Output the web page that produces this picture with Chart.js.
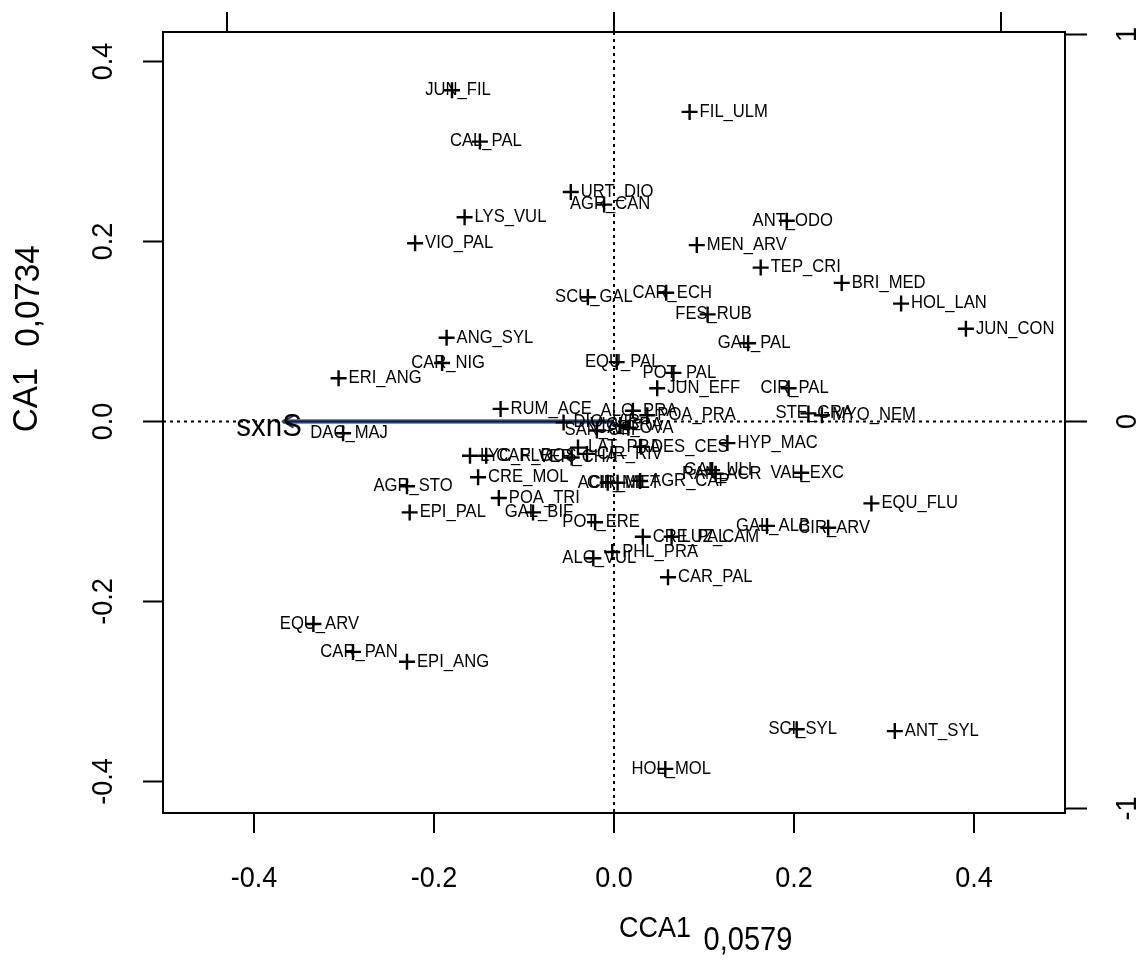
<!DOCTYPE html>
<html><head><meta charset="utf-8">
<script src="https://cdn.jsdelivr.net/npm/chart.js@4.4.0/dist/chart.umd.min.js"></script>
<style>html,body{margin:0;padding:0;background:#fff;}#wrap{width:1143px;height:979px;}</style>
</head><body><div id="wrap"><canvas id="c" width="1143" height="979"></canvas></div>
<script>
// ---- data ----
const speciesNames = ["JUN_FIL","FIL_ULM","CAL_PAL","URT_DIO","AGR_CAN","ANT_ODO","LYS_VUL","VIO_PAL","MEN_ARV","TEP_CRI","BRI_MED","SCU_GAL","CAR_ECH","HOL_LAN","FES_RUB","JUN_CON","ANG_SYL","GAL_PAL","CAR_NIG","EQU_PAL","POT_PAL","ERI_ANG","JUN_EFF","CIR_PAL","RUM_ACE","ALO_PRA","POA_PRA","STE_GRA","MYO_NEM","DIO_VIR","SAN_OFF","VIC_CRA","CAR_OVA","DAC_MAJ","LAT_PRA","DES_CES","HYP_MAC","LYC_FLO","CAR_ROS","VER_CHA","CIR_RIV","CRE_MOL","AGR_STO","ACH_MIL","CIR_MET","AGR_CAP","GAL_ULI","RAN_ACR","VAL_EXC","POA_TRI","EQU_FLU","EPI_PAL","GAL_BIF","POT_ERE","GAL_ALB","CIR_ARV","CRE_PAL","LUZ_CAM","PHL_PRA","ALC_VUL","CAR_PAL","EQU_ARV","CAR_PAN","EPI_ANG","SCI_SYL","ANT_SYL","HOL_MOL"];
const speciesX = [-0.180,0.084,-0.149,-0.048,-0.011,0.192,-0.166,-0.221,0.092,0.163,0.253,-0.029,0.058,0.319,0.104,0.391,-0.186,0.149,-0.191,0.003,0.066,-0.306,0.048,0.194,-0.126,0.021,0.037,0.216,0.231,-0.056,-0.019,0.007,0.016,-0.301,-0.040,0.030,0.126,-0.160,-0.142,-0.047,-0.030,-0.151,-0.230,-0.007,0.004,0.029,0.109,0.113,0.208,-0.128,0.286,-0.227,-0.090,-0.021,0.170,0.238,0.032,0.064,-0.002,-0.023,0.060,-0.334,-0.290,-0.230,0.203,0.312,0.057];
const speciesY = [0.368,0.344,0.311,0.255,0.241,0.223,0.227,0.198,0.196,0.171,0.154,0.138,0.143,0.131,0.119,0.103,0.093,0.087,0.065,0.066,0.054,0.048,0.037,0.037,0.014,0.012,0.007,0.009,0.007,-0.001,-0.010,-0.004,-0.007,-0.013,-0.029,-0.028,-0.024,-0.038,-0.038,-0.040,-0.036,-0.062,-0.072,-0.068,-0.068,-0.066,-0.054,-0.058,-0.057,-0.085,-0.091,-0.101,-0.101,-0.112,-0.116,-0.118,-0.128,-0.128,-0.145,-0.152,-0.173,-0.225,-0.256,-0.267,-0.342,-0.344,-0.386];
// label placement: 'c' = centred on the cross, 'r' = to the right of the cross
const labelSide = ["c","r","c","r","c","c","r","r","r","r","r","c","c","r","c","r","r","c","c","c","c","r","r","c","r","c","r","c","r","r","c","c","c","c","r","r","r","r","r","c","r","r","c","c","c","r","c","c","c","r","r","r","c","c","c","c","r","r","r","c","r","c","c","r","c","r","c"];
const arrowNames = ["sxnS"];
const arrowX = [-0.855];
const arrowY = [0.0];
const arrowMult = 0.43;
const xTicks = [-0.4,-0.2,0.0,0.2,0.4];
const yTicks = [-0.4,-0.2,0.0,0.2,0.4];
const arrowTicks = [-1,0,1];
const xLimits = [-0.5011,0.5011];
const yLimits = [-0.435,0.4328];
const xTitle = ["CCA1","0,0579"];
const yTitle = ["CA1","0,0734"];

const FONT = '"Liberation Sans", Arial, Helvetica, sans-serif';

function condensedText(ctx, txt, x, y, size, sx, align, rot){
  ctx.save();
  ctx.translate(x,y);
  if(rot) ctx.rotate(rot);
  ctx.scale(sx,1);
  ctx.font = size+'px '+FONT;
  ctx.textAlign = align; ctx.textBaseline='middle';
  ctx.fillText(txt,0,0);
  ctx.restore();
}

const rPlot = {
  id:'rPlot',
  beforeDatasetsDraw(chart){
    const {ctx, chartArea:a, scales:{x,y}} = chart;
    ctx.save();
    ctx.beginPath(); ctx.rect(a.left,a.top,a.right-a.left,a.bottom-a.top); ctx.clip();
    ctx.strokeStyle='#000'; ctx.lineWidth=2; ctx.setLineDash([3,4]);
    const x0=x.getPixelForValue(0), y0=y.getPixelForValue(0);
    ctx.beginPath(); ctx.moveTo(x0,a.top); ctx.lineTo(x0,a.bottom); ctx.stroke();
    ctx.beginPath(); ctx.moveTo(a.left,y0); ctx.lineTo(a.right,y0); ctx.stroke();
    ctx.restore();
  },
  afterDatasetsDraw(chart){
    const {ctx, chartArea:a, scales} = chart;
    const x=scales.x, y=scales.y, x2=scales.x2, y2=scales.y2;
    ctx.save();
    ctx.fillStyle='#000'; ctx.strokeStyle='#000';
    // species labels
    ctx.save();
    ctx.beginPath(); ctx.rect(a.left,a.top,a.right-a.left,a.bottom-a.top); ctx.clip();
    speciesNames.forEach((n,i)=>{
      const px=x.getPixelForValue(speciesX[i]), py=y.getPixelForValue(speciesY[i]);
      if(labelSide[i]==='r') condensedText(ctx,n,px+10,py,17.5,0.95,'left');
      else condensedText(ctx,n,px+6,py,17.5,0.95,'center');
    });
    ctx.restore();
    // arrow heads and labels
    arrowNames.forEach((n,i)=>{
      const ex=x.getPixelForValue(arrowX[i]*arrowMult), ey=y.getPixelForValue(arrowY[i]*arrowMult);
      const ox=x.getPixelForValue(0), oy=y.getPixelForValue(0);
      const ang=Math.atan2(ey-oy,ex-ox), L=12, w=Math.PI/6;
      ctx.save();
      ctx.strokeStyle='#23407a'; ctx.lineWidth=2;
      ctx.beginPath();
      ctx.moveTo(ex-L*Math.cos(ang-w), ey-L*Math.sin(ang-w));
      ctx.lineTo(ex,ey);
      ctx.lineTo(ex-L*Math.cos(ang+w), ey-L*Math.sin(ang+w));
      ctx.stroke();
      ctx.restore();
      ctx.fillStyle='#000';
      condensedText(ctx,n,ex-14,ey+6,31,0.95,'center');
    });
    // box
    ctx.lineWidth=2;
    ctx.strokeRect(a.left,a.top,a.right-a.left,a.bottom-a.top);
    const T=20;
    ctx.beginPath();
    xTicks.forEach(v=>{const p=x.getPixelForValue(v); ctx.moveTo(p,a.bottom); ctx.lineTo(p,a.bottom+T);});
    yTicks.forEach(v=>{const p=y.getPixelForValue(v); ctx.moveTo(a.left,p); ctx.lineTo(a.left-T,p);});
    arrowTicks.forEach(v=>{const p=x2.getPixelForValue(v); ctx.moveTo(p,a.top); ctx.lineTo(p,a.top-T);});
    arrowTicks.forEach(v=>{const p=y2.getPixelForValue(v); ctx.moveTo(a.right,p); ctx.lineTo(a.right+T+2,p);});
    ctx.stroke();
    // tick labels
    xTicks.forEach(v=>condensedText(ctx,v.toFixed(1),x.getPixelForValue(v),a.bottom+66,30,0.9,'center'));
    yTicks.forEach(v=>condensedText(ctx,v.toFixed(1),a.left-59,y.getPixelForValue(v),30,0.9,'center',-Math.PI/2));
    arrowTicks.forEach(v=>condensedText(ctx,String(v),a.right+63,y2.getPixelForValue(v),30,0.9,'center',-Math.PI/2));
    // axis titles
    condensedText(ctx,xTitle[0],655,929,30,0.9,'center');
    condensedText(ctx,xTitle[1],748,941,33,0.88,'center');
    condensedText(ctx,yTitle[0],27,400,35,0.95,'center',-Math.PI/2);
    condensedText(ctx,yTitle[1],29,296,35,0.95,'center',-Math.PI/2);
    ctx.restore();
  }
};

const speciesPts = speciesNames.map((n,i)=>({x:speciesX[i],y:speciesY[i]}));
const arrowPts = [];
arrowNames.forEach((n,i)=>{arrowPts.push({x:0,y:0});arrowPts.push({x:arrowX[i]*arrowMult,y:arrowY[i]*arrowMult});});

new Chart(document.getElementById('c'),{
  type:'scatter',
  data:{datasets:[
    {label:'species',data:speciesPts,pointStyle:'cross',pointRadius:8,pointHoverRadius:8,borderColor:'#000',backgroundColor:'#000',borderWidth:2.4,order:1},
    {type:'line',label:'arrow-edge',data:arrowPts,borderColor:'#4b68a6',borderWidth:4.5,pointRadius:0,showLine:true,order:3},
    {type:'line',label:'arrow',data:arrowPts,borderColor:'#0c1a3c',borderWidth:2,pointRadius:0,showLine:true,order:2}
  ]},
  options:{
    responsive:false, devicePixelRatio:1, animation:false,
    layout:{padding:{left:163,right:78,top:32,bottom:166}},
    plugins:{legend:{display:false},tooltip:{enabled:false},title:{display:false}},
    scales:{
      x:{type:'linear',display:false,min:xLimits[0],max:xLimits[1]},
      y:{type:'linear',display:false,min:yLimits[0],max:yLimits[1]},
      x2:{type:'linear',display:false,position:'top',min:xLimits[0]/arrowMult,max:xLimits[1]/arrowMult},
      y2:{type:'linear',display:false,position:'right',min:yLimits[0]/arrowMult,max:yLimits[1]/arrowMult}
    }
  },
  plugins:[rPlot]
});
</script></body></html>
